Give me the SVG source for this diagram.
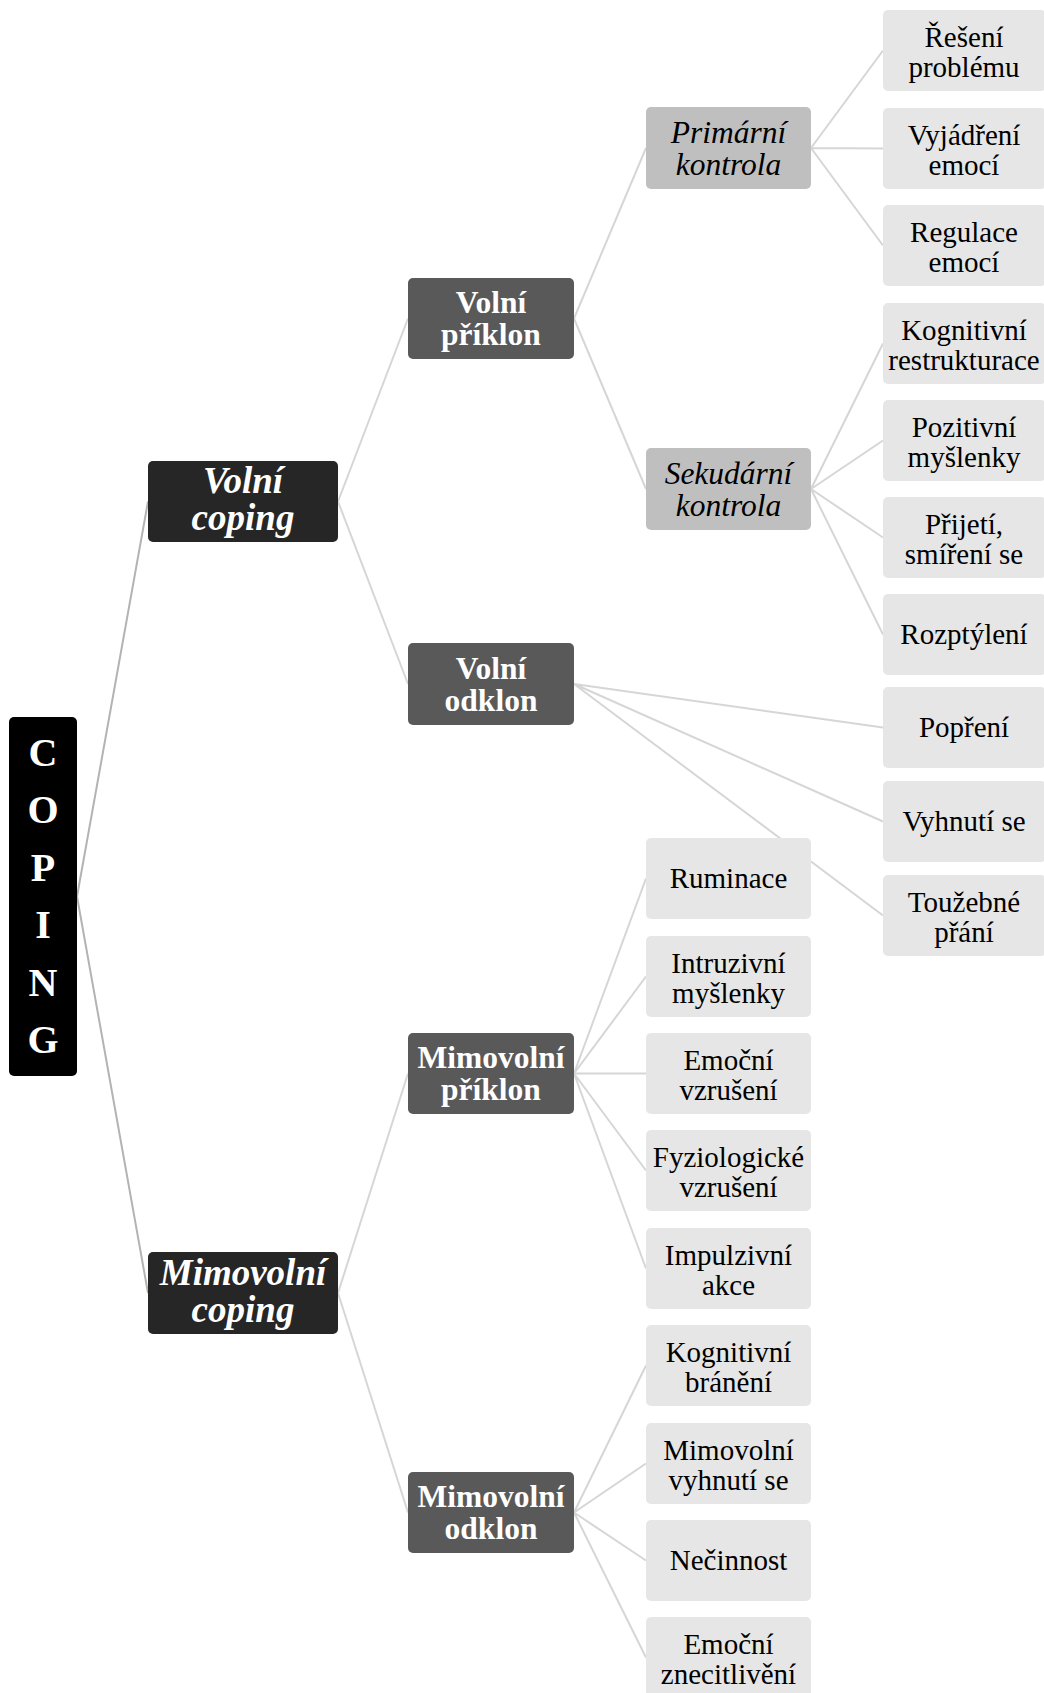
<svg xmlns="http://www.w3.org/2000/svg" width="1044" height="1693" viewBox="0 0 1044 1693">
<style>
text{font-family:"Liberation Serif","Times New Roman",serif;text-anchor:middle}
.leaf{fill:#e6e6e6}
.mid{fill:#bfbfbf}
.l2{fill:#595959}
.l1{fill:#262626}
.root{fill:#000000}
.tl{font-size:29px;fill:#000}
.ti{font-size:31.5px;font-style:italic;fill:#000}
.tb{font-size:31.5px;font-weight:bold;fill:#fff}
.tbi{font-size:37px;font-weight:bold;font-style:italic;fill:#fff}
.tr{font-size:40px;font-weight:bold;fill:#fff}
.c1{stroke:#b3b3b3;stroke-width:2;fill:none}
.c{stroke:#d6d6d6;stroke-width:2;fill:none}
</style>
<rect width="1044" height="1693" fill="#ffffff"/>
<g id="connectors">
<path class="c1" d="M77,896.5 L148,501.5 M77,896.5 L148,1293"/>
<path class="c" d="M338,501.5 L408,318.5 M338,501.5 L408,684"/>
<path class="c" d="M338,1293 L408,1073.5 M338,1293 L408,1512.5"/>
<path class="c" d="M574,318.5 L646,148 M574,318.5 L646,489"/>
<path class="c" d="M811,148 L883,50.5 M811,148 L883,148.5 M811,148 L883,245.5"/>
<path class="c" d="M811,489 L883,343.5 M811,489 L883,440.5 M811,489 L883,537.5 M811,489 L883,634.5"/>
<path class="c" d="M574,684 L883,727.5 M574,684 L883,821.5 M574,684 L883,915.5"/>
<path class="c" d="M574,1073.5 L646,878.5 M574,1073.5 L646,976.5 M574,1073.5 L646,1073.5 M574,1073.5 L646,1170.5 M574,1073.5 L646,1268.5"/>
<path class="c" d="M574,1512.5 L646,1365.5 M574,1512.5 L646,1463.5 M574,1512.5 L646,1560.5 M574,1512.5 L646,1657.5"/>
</g>
<g id="coping">
<rect class="root" x="9" y="717" width="68" height="359" rx="5"/>
<text class="tr" x="43" y="766">C</text>
<text class="tr" x="43" y="823">O</text>
<text class="tr" x="43" y="881">P</text>
<text class="tr" x="43" y="938">I</text>
<text class="tr" x="43" y="996">N</text>
<text class="tr" x="43" y="1053">G</text>
</g>
<g id="volni-coping">
<rect class="l1" x="148" y="461" width="190" height="81" rx="5"/>
<text class="tbi" x="243" y="493">Volní</text>
<text class="tbi" x="243" y="530">coping</text>
</g>
<g id="mimovolni-coping">
<rect class="l1" x="148" y="1252" width="190" height="82" rx="5"/>
<text class="tbi" x="243" y="1284.5">Mimovolní</text>
<text class="tbi" x="243" y="1321.5">coping</text>
</g>
<g id="volni-priklon">
<rect class="l2" x="408" y="278" width="166" height="81" rx="5"/>
<text class="tb" x="491" y="313">Volní</text>
<text class="tb" x="491" y="345">příklon</text>
</g>
<g id="volni-odklon">
<rect class="l2" x="408" y="643" width="166" height="82" rx="5"/>
<text class="tb" x="491" y="679">Volní</text>
<text class="tb" x="491" y="711">odklon</text>
</g>
<g id="mimovolni-priklon">
<rect class="l2" x="408" y="1033" width="166" height="81" rx="5"/>
<text class="tb" x="491" y="1068">Mimovolní</text>
<text class="tb" x="491" y="1100">příklon</text>
</g>
<g id="mimovolni-odklon">
<rect class="l2" x="408" y="1472" width="166" height="81" rx="5"/>
<text class="tb" x="491" y="1507">Mimovolní</text>
<text class="tb" x="491" y="1539">odklon</text>
</g>
<g id="primarni-kontrola">
<rect class="mid" x="646" y="107" width="165" height="82" rx="5"/>
<text class="ti" x="728.5" y="143">Primární</text>
<text class="ti" x="728.5" y="175">kontrola</text>
</g>
<g id="sekudarni-kontrola">
<rect class="mid" x="646" y="448" width="165" height="82" rx="5"/>
<text class="ti" x="728.5" y="484">Sekudární</text>
<text class="ti" x="728.5" y="516">kontrola</text>
</g>
<g id="reseni-problemu">
<rect class="leaf" x="883" y="10" width="163" height="81" rx="5"/>
<text class="tl" x="964" y="46.5">Řešení</text>
<text class="tl" x="964" y="76.5">problému</text>
</g>
<g id="vyjadreni-emoci">
<rect class="leaf" x="883" y="108" width="163" height="81" rx="5"/>
<text class="tl" x="964" y="144.5">Vyjádření</text>
<text class="tl" x="964" y="174.5">emocí</text>
</g>
<g id="regulace-emoci">
<rect class="leaf" x="883" y="205" width="163" height="81" rx="5"/>
<text class="tl" x="964" y="241.5">Regulace</text>
<text class="tl" x="964" y="271.5">emocí</text>
</g>
<g id="kognitivni-restrukturace">
<rect class="leaf" x="883" y="303" width="163" height="81" rx="5"/>
<text class="tl" x="964" y="339.5">Kognitivní</text>
<text class="tl" x="964" y="369.5">restrukturace</text>
</g>
<g id="pozitivni-myslenky">
<rect class="leaf" x="883" y="400" width="163" height="81" rx="5"/>
<text class="tl" x="964" y="436.5">Pozitivní</text>
<text class="tl" x="964" y="466.5">myšlenky</text>
</g>
<g id="prijeti-smireni">
<rect class="leaf" x="883" y="497" width="163" height="81" rx="5"/>
<text class="tl" x="964" y="533.5">Přijetí,</text>
<text class="tl" x="964" y="563.5">smíření se</text>
</g>
<g id="rozptyleni">
<rect class="leaf" x="883" y="594" width="163" height="81" rx="5"/>
<text class="tl" x="964" y="644">Rozptýlení</text>
</g>
<g id="popreni">
<rect class="leaf" x="883" y="687" width="163" height="81" rx="5"/>
<text class="tl" x="964" y="737">Popření</text>
</g>
<g id="vyhnuti-se">
<rect class="leaf" x="883" y="781" width="163" height="81" rx="5"/>
<text class="tl" x="964" y="831">Vyhnutí se</text>
</g>
<g id="touzebne-prani">
<rect class="leaf" x="883" y="875" width="163" height="81" rx="5"/>
<text class="tl" x="964" y="911.5">Toužebné</text>
<text class="tl" x="964" y="941.5">přání</text>
</g>
<g id="ruminace">
<rect class="leaf" x="646" y="838" width="165" height="81" rx="5"/>
<text class="tl" x="728.5" y="888">Ruminace</text>
</g>
<g id="intruzivni-myslenky">
<rect class="leaf" x="646" y="936" width="165" height="81" rx="5"/>
<text class="tl" x="728.5" y="972.5">Intruzivní</text>
<text class="tl" x="728.5" y="1002.5">myšlenky</text>
</g>
<g id="emocni-vzruseni">
<rect class="leaf" x="646" y="1033" width="165" height="81" rx="5"/>
<text class="tl" x="728.5" y="1069.5">Emoční</text>
<text class="tl" x="728.5" y="1099.5">vzrušení</text>
</g>
<g id="fyziologicke-vzruseni">
<rect class="leaf" x="646" y="1130" width="165" height="81" rx="5"/>
<text class="tl" x="728.5" y="1166.5">Fyziologické</text>
<text class="tl" x="728.5" y="1196.5">vzrušení</text>
</g>
<g id="impulzivni-akce">
<rect class="leaf" x="646" y="1228" width="165" height="81" rx="5"/>
<text class="tl" x="728.5" y="1264.5">Impulzivní</text>
<text class="tl" x="728.5" y="1294.5">akce</text>
</g>
<g id="kognitivni-braneni">
<rect class="leaf" x="646" y="1325" width="165" height="81" rx="5"/>
<text class="tl" x="728.5" y="1361.5">Kognitivní</text>
<text class="tl" x="728.5" y="1391.5">bránění</text>
</g>
<g id="mimovolni-vyhnuti">
<rect class="leaf" x="646" y="1423" width="165" height="81" rx="5"/>
<text class="tl" x="728.5" y="1459.5">Mimovolní</text>
<text class="tl" x="728.5" y="1489.5">vyhnutí se</text>
</g>
<g id="necinnost">
<rect class="leaf" x="646" y="1520" width="165" height="81" rx="5"/>
<text class="tl" x="728.5" y="1570">Nečinnost</text>
</g>
<g id="emocni-znecitliveni">
<rect class="leaf" x="646" y="1617" width="165" height="81" rx="5"/>
<text class="tl" x="728.5" y="1653.5">Emoční</text>
<text class="tl" x="728.5" y="1683.5">znecitlivění</text>
</g>
</svg>
